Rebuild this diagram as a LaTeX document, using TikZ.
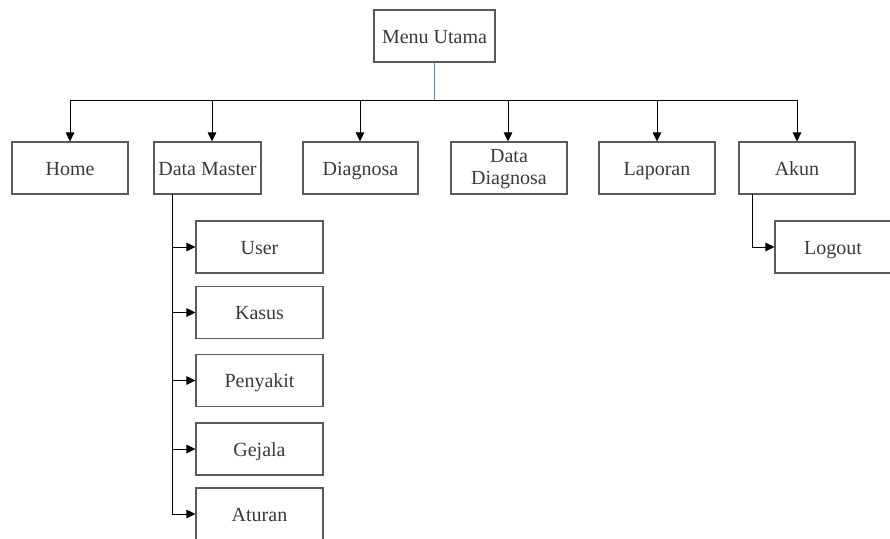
\documentclass[tikz,border=0pt]{standalone}
\usepackage{fontspec}
\setmainfont{Liberation Serif}
\usetikzlibrary{arrows.meta}
\definecolor{boxline}{HTML}{5A5A5A}
\definecolor{txt}{HTML}{3A3A3A}
\definecolor{trunk}{HTML}{4A8FC0}
\begin{document}
\begin{tikzpicture}[x=1pt,y=-1pt,
  menubox/.style={draw=boxline,line width=1.1pt,minimum height=52pt,inner sep=0pt,
    text=txt,font=\fontsize{20}{21.5}\selectfont,align=center},
  oneline/.style={text height=16pt,text depth=2pt},
  arr/.style={line width=1pt,-{Triangle[length=9pt,width=8.5pt]}},
  link/.style={line width=1pt}]
\useasboundingbox (0,0) rectangle (890,538);
\clip (0,0) rectangle (890,538);

% top level
\node[menubox,oneline,minimum width=121pt] (menu) at (434.5,36) {Menu Utama};

% main menu row
\node[menubox,oneline,minimum width=116pt] (home) at (70,168) {Home};
\node[menubox,oneline,minimum width=107pt] (dm)   at (207.5,168) {Data Master};
\node[menubox,oneline,minimum width=115pt] (diag) at (360.5,168) {Diagnosa};
\node[menubox,minimum width=116pt,text height=36pt,text depth=4pt]
                                           (dd)   at (509,168) {Data\\Diagnosa};
\node[menubox,oneline,minimum width=116pt] (lap)  at (657,168) {Laporan};
\node[menubox,oneline,minimum width=116pt] (akun) at (797,168) {Akun};

% sub menus
\node[menubox,oneline,minimum width=116pt] (logout) at (833,247) {Logout};
\node[menubox,oneline,minimum width=127pt] (user)  at (259.5,247) {User};
\node[menubox,oneline,minimum width=127pt] (kasus) at (259.5,312.5) {Kasus};
\node[menubox,oneline,minimum width=127pt] (peny)  at (259.5,380.5) {Penyakit};
\node[menubox,oneline,minimum width=127pt] (gej)   at (259.5,449) {Gejala};
\node[menubox,oneline,minimum width=127pt] (atur)  at (259.5,514) {Aturan};

% bus coordinates
\coordinate (bhome) at (70,100);
\coordinate (bdm)   at (212,100);
\coordinate (bdiag) at (360,100);
\coordinate (bdd)   at (508,100);
\coordinate (blap)  at (657,100);
\coordinate (bakun) at (797,100);
\coordinate (bmid)  at (menu.south |- bhome);

% trunk and bus
\draw[trunk,line width=1.3pt] (menu.south) -- (bmid);
\draw[link] (bhome) -- (bakun);
\foreach \b/\n in {bhome/home,bdm/dm,bdiag/diag,bdd/dd,blap/lap,bakun/akun}
  \draw[arr] (\b) -- (\b |- \n.north);

% Data Master branch
\coordinate (dmtop) at (172,194);
\coordinate (dmend) at (dmtop |- atur.west);
\draw[link] (dmtop) -- (dmend);
\foreach \n in {user,kasus,peny,gej,atur}
  \draw[arr] (dmtop |- \n.west) -- (\n.west);

% Akun branch
\coordinate (aktop) at (752,194);
\draw[arr] (aktop) |- (logout.west);
\end{tikzpicture}
\end{document}
